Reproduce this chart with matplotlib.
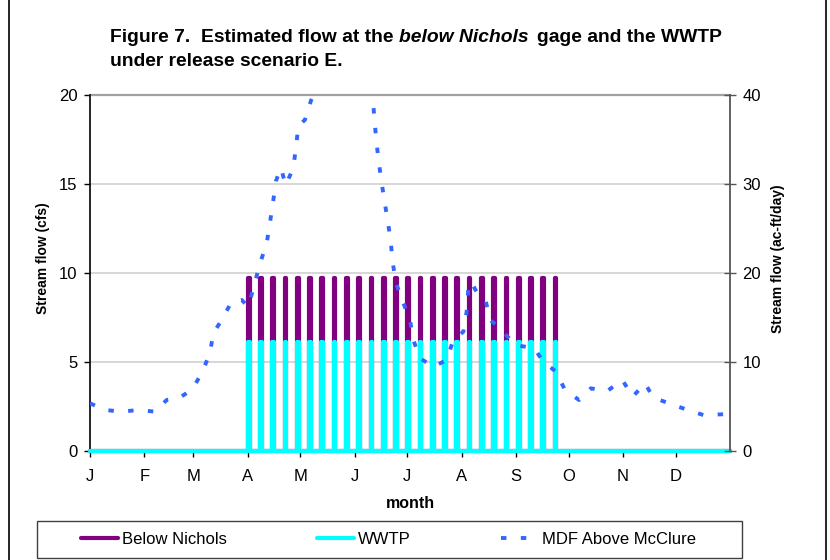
import matplotlib
matplotlib.use("Agg")
import matplotlib.pyplot as plt
from matplotlib.lines import Line2D
from matplotlib.patches import Rectangle

plt.rcParams["font.family"] = ["Liberation Sans", "DejaVu Sans"]

W, H = 830, 560

month_starts = [0, 31, 59, 90, 120, 151, 181, 212, 243, 273, 304, 334]
month_labels = ["J", "F", "M", "A", "M", "J", "J", "A", "S", "O", "N", "D"]

# weekly release pulses: day of year each pulse starts
pulse_days = [90, 97, 104, 111, 118, 125, 132, 139, 146, 153, 160, 167, 174,
              181, 188, 195, 202, 209, 216, 223, 230, 237, 244, 251, 258, 265]
below_nichols_peak = 9.7   # cfs
wwtp_peak = 6.15           # cfs

# MDF above McClure (ac-ft/day, right axis)
mdf_days = [0, 8.6, 18.1, 27.5, 37.1, 43.7, 50.4, 58.0, 63.7, 68.4, 70.3, 75.1,
            80.8, 86.5, 90.3, 97.0, 100.8, 102.7, 104.5, 106.1, 108.9, 111.6,
            115.9, 117.5, 118.8, 122.6, 126.0, 131, 140, 148, 155, 160,
            161.2, 162.1, 163.1, 164.4, 166.0, 167.8, 169.8, 171.5, 172.6,
            174.5, 178.3, 182.5, 184.4, 188.2, 195.8, 203.4, 207.2, 212.9,
            214.8, 215.7, 217.3, 220.9, 225.8, 228.1, 231.9, 235.7, 242.4,
            248.1, 253.4, 258.5, 265.8, 270.9, 278.9, 285.6, 295.0, 303.6,
            309.5, 316.5, 321.3, 330.2, 339.7, 349.8, 360.3, 365]
mdf_flow = [5.36, 4.61, 4.42, 4.61, 4.42, 5.73, 5.92, 6.85, 8.73, 10.98, 13.22,
            14.72, 16.78, 16.97, 16.21, 21.09, 23.37, 25.73, 28.12, 30.37,
            31.80, 29.85, 31.80, 34.12, 36.48, 37.22, 39.36, 41.5, 43.5, 44.0,
            42.5, 40.6, 39.85, 37.61, 35.25, 32.92, 30.60, 28.24, 25.88, 23.57,
            21.24, 18.88, 16.82, 14.72, 12.47, 10.42, 9.47, 10.22, 12.47, 13.40,
            15.65, 18.09, 19.02, 17.72, 16.78, 14.72, 14.16, 13.40, 11.91, 11.72,
            11.54, 10.03, 8.91, 6.85, 5.73, 7.04, 6.74, 7.98, 6.10, 7.61, 5.99,
            5.36, 4.69, 4.04, 4.12, 4.16]


def pulse_series(days, peak):
    x, y = [0], [0]
    for d in days:
        x += [d, d, d + 1, d + 1]
        y += [0, peak, peak, 0]
    x.append(365)
    y.append(0)
    return x, y


fig = plt.figure(figsize=(W / 100, H / 100), dpi=100)
ax = fig.add_axes([90 / W, 109 / H, 640 / W, 356 / H])
ax2 = ax.twinx()

bx, by = pulse_series(pulse_days, below_nichols_peak)
wx, wy = pulse_series(pulse_days, wwtp_peak)
l1, = ax.plot(bx, by, color="#800080", lw=3.0, solid_joinstyle="round",
              solid_capstyle="round", label="Below Nichols", zorder=3,
              clip_on=False)
l2, = ax.plot(wx, wy, color="#00FFFF", lw=3.0, solid_joinstyle="round",
              solid_capstyle="round", label="WWTP", zorder=3.1, clip_on=False)
l3, = ax2.plot(mdf_days, mdf_flow, color="#3366FF", lw=2.8,
               linestyle=(0, (1.4, 3.7)), dash_capstyle="butt",
               label="MDF Above McClure")

ax.set_xlim(0, 365)
ax.set_ylim(0, 20)
ax2.set_ylim(0, 40)
ax.set_xticks(month_starts)
ax.set_xticklabels(month_labels)
ax.set_yticks([0, 5, 10, 15, 20])
ax2.set_yticks([0, 10, 20, 30, 40])
ax.yaxis.grid(True, color="#d4d4d4", lw=1.3)
ax.set_axisbelow(True)

for s in ["top", "right"]:
    ax.spines[s].set_visible(False)
for s in ["left", "top", "bottom"]:
    ax2.spines[s].set_visible(False)
ax2.spines["right"].set_color("#555555")
ax2.spines["right"].set_linewidth(1.3)
ax.spines["left"].set_linewidth(1.2)
ax.spines["bottom"].set_linewidth(1.2)
ax.axhline(20, color="#a0a0a0", lw=1.6, clip_on=False)

ax.tick_params(axis="y", direction="out", length=4, width=1, pad=5, labelsize=12)
ax.tick_params(axis="x", direction="out", length=4, width=1, pad=9, labelsize=12)
ax2.tick_params(axis="y", direction="inout", length=8, width=1, pad=5,
                labelsize=12, color="#555555")

fig.text(42.5 / W, 1 - 258.5 / H, "Stream flow (cfs)", rotation=90,
         ha="center", va="center", fontsize=10, fontweight="bold")
fig.text(777.5 / W, 1 - 258.5 / H, "Stream flow (ac-ft/day)", rotation=90,
         ha="center", va="center", fontsize=10, fontweight="bold")
fig.text(410 / W, 1 - 503 / H, "month", ha="center", va="center",
         fontsize=11.5, fontweight="bold")

# title, mixed bold / bold italic on the first line
renderer = fig.canvas.get_renderer()
ty = 1 - 37 / H
tsize = 13.9
t1 = fig.text(110 / W, ty, "Figure 7.  Estimated flow at the", fontsize=tsize,
              fontweight="bold", va="center")
space = 0.278 * tsize * 100 / 72
x1 = t1.get_window_extent(renderer).x1 + space
t2 = fig.text(x1 / W, ty, "below Nichols", fontsize=tsize, fontweight="bold",
              fontstyle="italic", va="center")
x2 = t2.get_window_extent(renderer).x1 + space * 1.6
fig.text(x2 / W, ty, "gage and the WWTP", fontsize=tsize, fontweight="bold",
         va="center")
fig.text(110 / W, 1 - 61 / H, "under release scenario E.", fontsize=tsize,
         fontweight="bold", va="center")

# legend
fig.legend([l1, l2, l3], ["Below Nichols", "WWTP", "MDF Above McClure"],
           loc="center", bbox_to_anchor=(81 / W, 1 - 539.5 / H - 0.02, 615 / W, 0.04),
           mode="expand", ncol=3, frameon=False, fontsize=12, handlelength=2.2,
           handletextpad=0.25, borderpad=0, borderaxespad=0)
fig.add_artist(Rectangle((37 / W, 2 / H), 705 / W, 37 / H, transform=fig.transFigure,
                         fill=False, ec="#404040", lw=1.0))

# chart-area border
fig.add_artist(Line2D([9 / W, 9 / W], [0, 1], transform=fig.transFigure,
                      color="black", lw=1.2))
fig.add_artist(Line2D([826 / W, 826 / W], [0, 1], transform=fig.transFigure,
                      color="black", lw=1.2))

fig.savefig("out.png", dpi=100)
